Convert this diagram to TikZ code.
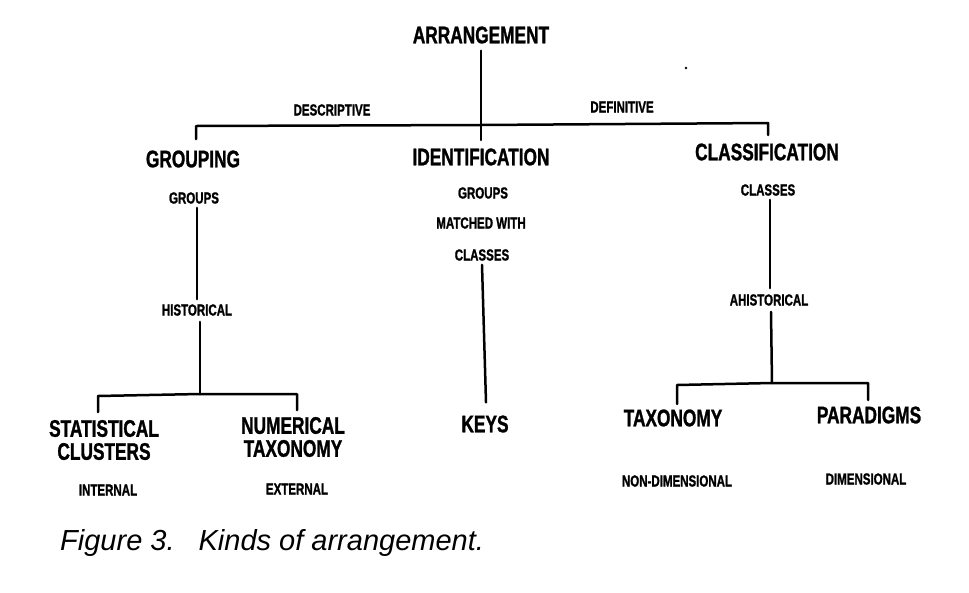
\documentclass[tikz,border=0pt]{standalone}
\usepackage{fontspec}
\usetikzlibrary{calc}
\newfontfamily\condfont[FakeStretch=0.72, BoldFeatures={FakeBold=1.2}]{Liberation Sans}
\newfontfamily\capfont{Liberation Sans}
\begin{document}
\begin{tikzpicture}[x=1pt,y=-1pt,
  big/.style={font=\condfont\bfseries\fontsize{24}{23}\selectfont, inner sep=1pt},
  small/.style={font=\condfont\bfseries\fontsize{16}{18}\selectfont, inner sep=1pt},
  edge/.style={line width=2.5pt, line cap=round, line join=round}]
\useasboundingbox (0,0) rectangle (969,592);
\fill[white] (0,0) rectangle (969,592);

% top
\node[big] (arr) at (481,35) {ARRANGEMENT};
\node[small] (desc) at (332,110) {DESCRIPTIVE};
\node[small] (defi) at (622,107) {DEFINITIVE};

\node[big] (grp) at (193,159) {GROUPING};
\node[big] (idf) at (481,157) {IDENTIFICATION};
\node[big] (cls) at (767,152) {CLASSIFICATION};

\coordinate (jl) at (196,126);
\coordinate (jm) at (481,125);
\coordinate (jr) at (768,123);
\coordinate (tl) at (196,139);
\coordinate (tr) at (768,135);
\coordinate (mb) at (481,140);
\draw[edge] ($(arr.south)+(0,6)$) -- (mb);
\draw[edge] (tl) -- (jl) -- (jm) -- (jr) -- (tr);

% grouping branch
\node[small] (groups1) at (194,198) {GROUPS};
\node[small] (hist) at (197,310) {HISTORICAL};
\draw[edge] ($(groups1.south)+(3,3)$) -- ($(hist.north)+(0,-4)$);
\coordinate (hj) at (200,394);
\coordinate (hl) at (98,396);
\coordinate (hr) at (297,394);
\coordinate (hlt) at (98,412);
\coordinate (hrt) at (297,410);
\draw[edge] ($(hist.south)+(3,5)$) -- (hj);
\draw[edge] (hlt) -- (hl) -- (hj) -- (hr) -- (hrt);
\node[big, align=center] (stat) at (104,440) {STATISTICAL\\CLUSTERS};
\node[big, align=center] (num) at (293,437) {NUMERICAL\\TAXONOMY};
\node[small] (int) at (108,490) {INTERNAL};
\node[small] (ext) at (297,489) {EXTERNAL};

% identification branch
\node[small] (groups2) at (483,193) {GROUPS};
\node[small] (match) at (481,223) {MATCHED WITH};
\node[small] (classes2) at (482,255) {CLASSES};
\node[big] (keys) at (485,424) {KEYS};
\draw[edge] ($(classes2.south)+(0,3)$) -- ($(keys.north)+(1,-12)$);

% classification branch
\node[small] (classes3) at (768,190) {CLASSES};
\node[small] (ahist) at (769,300) {AHISTORICAL};
\draw[edge] ($(classes3.south)+(2,3)$) -- ($(ahist.north)+(1,-5)$);
\coordinate (cj) at (772,383);
\coordinate (cl) at (677,385);
\coordinate (cr) at (868,383);
\coordinate (clt) at (677,404);
\coordinate (crt) at (868,400);
\draw[edge] ($(ahist.south)+(2,5)$) -- (cj);
\draw[edge] (clt) -- (cl) -- (cj) -- (cr) -- (crt);
\node[big] (tax) at (673,418) {TAXONOMY};
\node[big] (par) at (869,415) {PARADIGMS};
\node[small] (nondim) at (677,481) {NON-DIMENSIONAL};
\node[small] (dim) at (866,479) {DIMENSIONAL};

% speck
\fill (686,68) circle (1.3pt);

% caption
\node[anchor=west, font=\capfont\itshape\fontsize{29}{32}\selectfont, inner sep=0pt] (cap) at (60,543) {Figure 3.\hspace{24pt}Kinds of arrangement.};
\end{tikzpicture}
\end{document}
